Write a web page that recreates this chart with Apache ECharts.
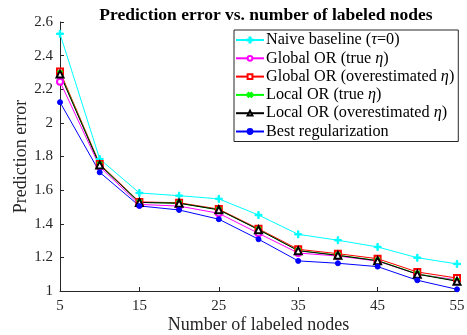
<!DOCTYPE html>
<html>
<head>
<meta charset="utf-8">
<script src="https://cdn.jsdelivr.net/npm/echarts@6/dist/echarts.min.js"></script>
<style>
  html, body { margin: 0; padding: 0; background: #fff; }
  #chart { width: 467px; height: 335px; }
</style>
</head>
<body>
<div id="chart"></div>
<script>
// number of labeled nodes
const nodes = ['5', '10', '15', '20', '25', '30', '35', '40', '45', '50', '55'];

const naive      = [2.53, 1.785, 1.583, 1.567, 1.548, 1.452, 1.337, 1.302, 1.262, 1.198, 1.161];
const globalTrue = [2.245, 1.74, 1.515, 1.505, 1.462, 1.343, 1.226, 1.208, 1.178, 1.10, 1.066];
const globalOver = [2.305, 1.756, 1.530, 1.525, 1.487, 1.370, 1.248, 1.222, 1.192, 1.113, 1.077];
const localTrue  = [2.295, 1.752, 1.527, 1.522, 1.483, 1.366, 1.240, 1.213, 1.181, 1.102, 1.060];
const localOver  = [2.29, 1.750, 1.527, 1.522, 1.483, 1.365, 1.240, 1.212, 1.180, 1.100, 1.058];
const bestReg    = [2.123, 1.706, 1.506, 1.482, 1.427, 1.308, 1.179, 1.165, 1.145, 1.064, 1.01];

const serif = 'Liberation Serif';
const axisCol = '#262626';
// plus sign marker, "x" is the same turned 45 deg
const plus = 'path://M4,0h2v4h4v2h-4v4h-2v-4h-4v-2h4z';

function mkSeries(name, data, color, symbol, size, extra) {
  return Object.assign({
    name: name,
    type: 'line',
    data: data,
    symbol: symbol,
    symbolSize: size,
    lineStyle: { color: color, width: 1 },
    itemStyle: { color: color, borderColor: color, borderWidth: 1 },
    animation: false
  }, extra || {});
}

const chart = echarts.init(document.getElementById('chart'), null, { renderer: 'canvas' });
chart.setOption({
  backgroundColor: '#fff',
  title: {
    text: 'Prediction error vs. number of labeled nodes',
    left: 261,
    textAlign: 'center',
    top: 1,
    textStyle: { fontFamily: serif, fontSize: 17.5, fontWeight: 'bold', color: '#000' }
  },
  grid: { left: 60, right: 10, top: 22, bottom: 44, outerBoundsMode: 'none' },
  legend: {
    orient: 'vertical',
    left: 234,
    top: 30,
    padding: [2, 4, 2, 1],
    itemGap: 2.3,
    itemWidth: 28,
    itemHeight: 6,
    backgroundColor: '#fff',
    borderColor: axisCol,
    borderWidth: 1,
    // greek letters in italic, like the math in the original
    formatter: name => name.replace(/([ητ])/, '{i|$1}'),
    textStyle: {
      fontFamily: serif, fontSize: 16.2, lineHeight: 16, color: '#000', padding: [0, 0, 0, -3],
      rich: { i: { fontFamily: serif, fontSize: 16.2, lineHeight: 16, fontStyle: 'italic', color: '#000' } }
    },
    data: ['Naive baseline (τ=0)', 'Global OR (true η)', 'Global OR (overestimated η)',
           'Local OR (true η)', 'Local OR (overestimated η)', 'Best regularization']
  },
  xAxis: {
    type: 'category',
    data: nodes,
    boundaryGap: false,
    name: 'Number of labeled nodes',
    nameLocation: 'middle',
    nameGap: 25,
    nameMoveOverlap: false,
    nameTextStyle: { fontFamily: serif, fontSize: 18, color: axisCol },
    axisLine: { lineStyle: { color: axisCol, width: 1 } },
    axisTick: { inside: true, length: 4, interval: 1, lineStyle: { color: axisCol } },
    axisLabel: { interval: 1, margin: 8, fontFamily: serif, fontSize: 15, color: axisCol },
    splitLine: { show: false }
  },
  yAxis: {
    type: 'value',
    min: 1,
    max: 2.6,
    interval: 0.2,
    name: 'Prediction error',
    nameLocation: 'middle',
    nameGap: 30,
    nameMoveOverlap: false,
    nameTextStyle: { fontFamily: serif, fontSize: 18, color: axisCol },
    axisLine: { show: true, lineStyle: { color: axisCol, width: 1 } },
    axisTick: { show: true, inside: true, length: 4, lineStyle: { color: axisCol } },
    axisLabel: { margin: 7, fontFamily: serif, fontSize: 15, color: axisCol },
    splitLine: { show: false }
  },
  series: [
    mkSeries('Naive baseline (τ=0)', naive, '#00ffff', plus, 7),
    mkSeries('Global OR (true η)', globalTrue, '#ff00ff', 'emptyCircle', 6),
    mkSeries('Global OR (overestimated η)', globalOver, '#ff0000', 'emptyRect', 6),
    mkSeries('Local OR (true η)', localTrue, '#00ff00', plus, 6, { symbolRotate: 45 }),
    mkSeries('Local OR (overestimated η)', localOver, '#000000', 'emptyTriangle', 7),
    mkSeries('Best regularization', bestReg, '#0000ff', 'circle', 5)
  ]
});
</script>
</body>
</html>
